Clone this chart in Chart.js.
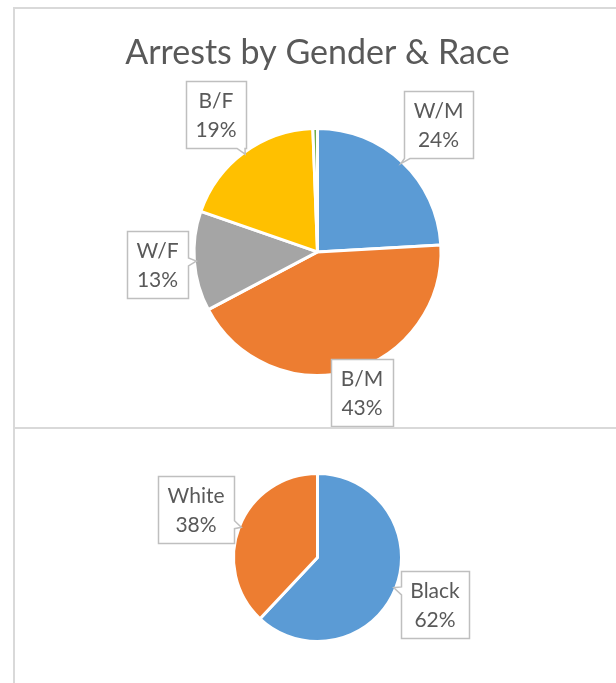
<!DOCTYPE html>
<html>
<head>
<meta charset="utf-8">
<script src="https://cdn.jsdelivr.net/npm/chart.js@4.4.1/dist/chart.umd.min.js"></script>
<style>
    html, body { margin: 0; padding: 0; background: #fff; overflow: hidden; }
    body { width: 616px; height: 683px; position: relative; }
    .chart-box {
        position: absolute;
        left: 13px;
        width: 640px;
        box-sizing: border-box;
        border: 2px solid #d9d9d9;
        background: #fff;
    }
    #topBox { top: 7px; height: 422px; }
    #bottomBox { top: 427px; height: 300px; }
    canvas { position: absolute; left: 0; top: 0; }
</style>
</head>
<body>
<div id="topBox" class="chart-box"><canvas id="genderRaceChart" width="636" height="418"></canvas></div>
<div id="bottomBox" class="chart-box"><canvas id="raceChart" width="636" height="256"></canvas></div>
<script>
"use strict";
// chart data
const genderRaceLabels = ['W/M', 'B/M', 'W/F', 'B/F', 'Other'];
const genderRaceValues = [24, 43, 13, 19, 0.6];
const genderRaceColors = ['#5b9bd5', '#ed7d31', '#a5a5a5', '#ffc000', '#70ad47'];
const raceLabels = ['Black', 'White'];
const raceValues = [62, 38];
const raceColors = ['#5b9bd5', '#ed7d31'];

const TEXT_COLOR = '#595959';
const LABEL_FONT = '21px Lato';
const LINE_H = 29;
const PAD_X = 9.5;
const PAD_Y = 4.5;
const CAP = 15;
const GAP = 6;

// builds a rectangle with a small pointer toward (ax, ay) if it lies outside
function calloutPath(ctx, x, y, w, h, ax, ay) {
    let cx = x + w / 2, cy = y + h / 2;
    let dx = ax - cx, dy = ay - cy;
    let tx = Math.abs(dx) > 1e-6 ? (w / 2) / Math.abs(dx) : Infinity;
    let ty = Math.abs(dy) > 1e-6 ? (h / 2) / Math.abs(dy) : Infinity;
    let t = Math.min(tx, ty);
    let outside = t < 0.97;
    let half = 4;
    let clampX = v => Math.min(Math.max(v, x), x + w);
    let clampY = v => Math.min(Math.max(v, y), y + h);
    ctx.beginPath();
    ctx.moveTo(x, y);
    if (outside && ty < tx && dy < 0) {
        let bx = cx + dx * t;
        ctx.lineTo(clampX(bx - half), y); ctx.lineTo(ax, ay); ctx.lineTo(clampX(bx + half), y);
    }
    ctx.lineTo(x + w, y);
    if (outside && tx <= ty && dx > 0) {
        let by = cy + dy * t;
        ctx.lineTo(x + w, clampY(by - half)); ctx.lineTo(ax, ay); ctx.lineTo(x + w, clampY(by + half));
    }
    ctx.lineTo(x + w, y + h);
    if (outside && ty < tx && dy > 0) {
        let bx = cx + dx * t;
        ctx.lineTo(clampX(bx + half), y + h); ctx.lineTo(ax, ay); ctx.lineTo(clampX(bx - half), y + h);
    }
    ctx.lineTo(x, y + h);
    if (outside && tx <= ty && dx < 0) {
        let by = cy + dy * t;
        ctx.lineTo(x, clampY(by + half)); ctx.lineTo(ax, ay); ctx.lineTo(x, clampY(by - half));
    }
    ctx.closePath();
}

const calloutLabels = {
    id: 'calloutLabels',
    afterDatasetsDraw(chart) {
        let ctx = chart.ctx;
        let meta = chart.getDatasetMeta(0);
        let values = chart.data.datasets[0].data;
        let total = values.reduce((a, b) => a + b, 0);
        ctx.save();
        ctx.font = LABEL_FONT;
        meta.data.forEach((arc, i) => {
            let share = values[i] / total * 100;
            if (share < 1) return;   // slivers get no label
            let lines = [chart.data.labels[i], Math.round(share) + '%'];
            let textW = Math.max(...lines.map(s => ctx.measureText(s).width));
            let w = Math.round(textW + 2 * PAD_X);
            let h = Math.round(lines.length * LINE_H + 2 * PAD_Y);
            let p = arc.getProps(['x', 'y', 'startAngle', 'endAngle', 'outerRadius'], true);
            let mid = (p.startAngle + p.endAngle) / 2;
            let cos = Math.cos(mid), sin = Math.sin(mid);
            let edge = Math.min(
                Math.abs(cos) > 1e-6 ? (w / 2) / Math.abs(cos) : Infinity,
                Math.abs(sin) > 1e-6 ? (h / 2) / Math.abs(sin) : Infinity);
            let dist = p.outerRadius + GAP + edge;
            let bx = Math.round(p.x + dist * cos - w / 2);
            let by = Math.round(p.y + dist * sin - h / 2);
            bx = Math.min(Math.max(bx, 1), chart.width - w - 1);
            by = Math.min(Math.max(by, 1), chart.height - h - 1);
            let ax = p.x + (p.outerRadius - 2) * cos;
            let ay = p.y + (p.outerRadius - 2) * sin;
            calloutPath(ctx, bx + 0.5, by + 0.5, w, h, ax, ay);
            ctx.fillStyle = '#ffffff';
            ctx.fill();
            ctx.strokeStyle = '#bfbfbf';
            ctx.lineWidth = 1.5;
            ctx.stroke();
            ctx.fillStyle = TEXT_COLOR;
            ctx.textAlign = 'center';
            ctx.textBaseline = 'alphabetic';
            lines.forEach((s, j) => {
                ctx.fillText(s, bx + w / 2, by + PAD_Y + LINE_H * j + LINE_H / 2 + CAP / 2);
            });
        });
        ctx.restore();
    }
};

function pieConfig(labels, values, colors, radius, title, padding) {
    return {
        type: 'pie',
        data: {
            labels: labels,
            datasets: [{
                data: values,
                backgroundColor: colors,
                borderColor: '#ffffff',
                borderWidth: 3,
                radius: radius
            }]
        },
        options: {
            responsive: false,
            animation: false,
            events: [],
            layout: { padding: padding },
            plugins: {
                legend: { display: false },
                tooltip: { enabled: false },
                title: {
                    display: !!title,
                    text: title,
                    color: TEXT_COLOR,
                    font: { family: 'Lato', size: 34, weight: 'normal', lineHeight: 1.2 },
                    padding: { top: 24, bottom: 8 }
                }
            }
        },
        plugins: [calloutLabels]
    };
}

function init() {
    new Chart(document.getElementById('genderRaceChart').getContext('2d'),
        pieConfig(genderRaceLabels, genderRaceValues, genderRaceColors, 123.5,
            'Arrests by Gender & Race', { left: 0, right: 31, top: 0, bottom: 5 }));
    new Chart(document.getElementById('raceChart').getContext('2d'),
        pieConfig(raceLabels, raceValues, raceColors, 84,
            '', { left: 0, right: 31, top: 1, bottom: 0 }));
}

if (document.fonts && document.fonts.load) {
    Promise.all([document.fonts.load(LABEL_FONT), document.fonts.load('34px Lato')]).then(init, init);
} else {
    init();
}
</script>
</body>
</html>
